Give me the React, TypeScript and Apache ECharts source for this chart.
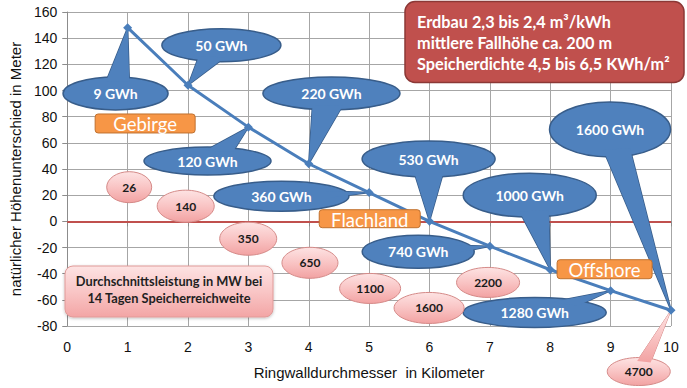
import React, { useEffect, useRef } from "react";
import * as echarts from "echarts";

// ---- data ----
const kmValues = [1, 2, 3, 4, 5, 6, 7, 8, 9, 10];
const heightValues = [148, 104, 72, 44, 22, 0, -19, -37, -53, -68];
const storageLabels = ["9 GWh", "50 GWh", "120 GWh", "220 GWh", "360 GWh", "530 GWh", "740 GWh", "1000 GWh", "1280 GWh", "1600 GWh"];
const powerKm = [1, 2, 3, 4, 5, 6, 7, 10];
const powerValues = [26, 140, 350, 650, 1100, 1600, 2200, 4700];
const regionLabels = ["Gebirge", "Flachland", "Offshore"];
const infoLines = ["Erdbau 2,3 bis 2,4 m³/kWh", "mittlere Fallhöhe ca. 200 m", "Speicherdichte 4,5 bis 6,5 KWh/m²"];
const legendLines = ["Durchschnittsleistung in MW bei", "14 Tagen Speicherreichweite"];
const xAxisName = "Ringwalldurchmesser  in Kilometer";
const yAxisName = "natürlicher Höhenunterschied in Meter";

// ---- annotation layout (data coordinates for centres, pixel sizes) ----
const blueCenters = [
  [0.8, 97.8], [2.553, 134.6], [2.323, 46.1], [4.376, 97.8], [3.547, 19.2],
  [5.985, 47.6], [5.813, -23.3], [7.66, 20], [7.742, -69.7], [8.99, 70.2],
];
const blueSizes = [
  [105, 33], [119, 33], [127, 28], [137, 33], [135, 30],
  [133, 36], [112, 33], [133, 44], [143, 30], [121, 55],
];
const pinkCenters = [
  [1.026, 26.1], [1.962, 11.6], [2.997, -13.3], [4.02, -31.7],
  [5.016, -51.3], [5.993, -66.2], [6.97, -46.7], [9.466, -114.8],
];
const pinkSizes = [[45, 31], [57, 32], [57, 33], [56, 31], [61, 30], [70, 31], [63, 30], [63, 28]];
const pinkHasPointer = [false, false, false, false, false, false, false, true];
const regionCenters = [[1.29, 74.8], [5.01, 2.0], [8.9, -36.6]];
const regionSizes = [[100, 19], [101, 18], [95, 19]];

const FONT = "Lato, 'Noto Sans', sans-serif";
const AXFONT = "'Liberation Sans', Arial, sans-serif";

function wedgePoints(c: number[], rx: number, ry: number, t: number[], spread: number, k: number) {
  const ang = Math.atan2((t[1] - c[1]) / ry, (t[0] - c[0]) / rx);
  const p1 = [c[0] + k * rx * Math.cos(ang - spread), c[1] + k * ry * Math.sin(ang - spread)];
  const p2 = [c[0] + k * rx * Math.cos(ang + spread), c[1] + k * ry * Math.sin(ang + spread)];
  return [p1, t, p2];
}

function calloutGroup(
  c: number[], rx: number, ry: number, tip: number[] | null,
  fill: any, stroke: string, lw: number, text: string, textFill: string, font: string
) {
  const children: any[] = [];
  if (tip) {
    const pts = wedgePoints(c, rx, ry, tip, 0.3, 0.75);
    children.push({ type: "polygon", shape: { points: pts }, style: { fill, stroke, lineWidth: lw, lineJoin: "round" } });
  }
  children.push({ type: "ellipse", shape: { cx: c[0], cy: c[1], rx, ry }, style: { fill, stroke, lineWidth: lw } });
  if (tip) {
    const pts = wedgePoints(c, rx, ry, tip, 0.3, 0.75);
    children.push({ type: "polygon", shape: { points: pts }, style: { fill, stroke: null, lineWidth: 0 } });
  }
  children.push({
    type: "text",
    style: { text, x: c[0], y: c[1], align: "center", verticalAlign: "middle", fill: textFill, font },
  });
  return { type: "group", children };
}

export default function App() {
  const ref = useRef<HTMLDivElement>(null);
  useEffect(() => {
    if (!ref.current) return;
    const chart = echarts.init(ref.current, null, { renderer: "svg" });

    const lineData = kmValues.map((k, i) => [k, heightValues[i]]);
    const blueData = blueCenters.map((c, i) => [c[0], c[1], kmValues[i], heightValues[i]]);
    const pinkData = pinkCenters.map((c, i) => {
      const idx = kmValues.indexOf(powerKm[i]);
      return [c[0], c[1], powerKm[i], heightValues[idx]];
    });

    const blueFill = "#4f81bd";
    const pinkFill = new echarts.graphic.LinearGradient(0, 0, 0, 1, [
      { offset: 0, color: "#fde3e3" },
      { offset: 0.5, color: "#f9c4c4" },
      { offset: 1, color: "#f2a2a2" },
    ]);

    const option: any = {
      animation: false,
      backgroundColor: "#ffffff",
      grid: { left: 62, right: 16, top: 12, bottom: 62, containLabel: false },
      xAxis: {
        type: "value",
        min: 0,
        max: 10,
        interval: 1,
        name: xAxisName,
        nameLocation: "middle",
        nameGap: 39,
        nameTextStyle: { fontFamily: AXFONT, fontSize: 15, color: "#111" },
        axisLine: { show: true, lineStyle: { color: "#8c8c8c" } },
        axisTick: { show: true, length: 5, lineStyle: { color: "#8c8c8c" } },
        axisLabel: { fontFamily: AXFONT, fontSize: 14, color: "#111", margin: 14 },
        splitLine: { show: true, lineStyle: { color: "#a6a6a6", width: 1 } },
      },
      yAxis: {
        type: "value",
        min: -80,
        max: 160,
        interval: 20,
        name: yAxisName,
        nameLocation: "middle",
        nameGap: 40,
        nameTextStyle: { fontFamily: AXFONT, fontSize: 15, color: "#111" },
        axisLine: { show: true, lineStyle: { color: "#8c8c8c" } },
        axisTick: { show: true, length: 5, lineStyle: { color: "#8c8c8c" } },
        axisLabel: { fontFamily: AXFONT, fontSize: 14, color: "#111", margin: 10 },
        splitLine: { show: true, lineStyle: { color: "#a6a6a6", width: 1 } },
      },
      series: [
        {
          type: "line",
          data: [],
          z: 1,
          silent: true,
          markLine: {
            silent: true,
            z: 1,
            symbol: ["none", "none"],
            label: { show: false },
            lineStyle: { color: "#c0504d", width: 2, type: "solid" },
            data: [{ yAxis: 0 }],
          },
        },
        {
          type: "custom",
          coordinateSystem: "cartesian2d",
          z: 4,
          clip: false,
          silent: true,
          data: blueData,
          encode: { x: [0, 2], y: [1, 3] },
          renderItem: (params: any, api: any) => {
            const i = params.dataIndex;
            const c = api.coord([api.value(0), api.value(1)]);
            const t = api.coord([api.value(2), api.value(3)]);
            const [w, h] = blueSizes[i];
            return calloutGroup(c, w / 2, h / 2, t, blueFill, "#385d8a", 1.5, storageLabels[i], "#ffffff", `bold 14px ${FONT}`);
          },
        },
        {
          type: "custom",
          coordinateSystem: "cartesian2d",
          z: 4,
          clip: false,
          silent: true,
          data: pinkData,
          encode: { x: [0, 2], y: [1, 3] },
          renderItem: (params: any, api: any) => {
            const i = params.dataIndex;
            const c = api.coord([api.value(0), api.value(1)]);
            const t = api.coord([api.value(2), api.value(3)]);
            const [w, h] = pinkSizes[i];
            return calloutGroup(
              c, w / 2, h / 2, pinkHasPointer[i] ? t : null, pinkFill, "#d58a88", 1,
              String(powerValues[i]), "#1a1a1a", `bold 12px ${FONT}`
            );
          },
        },
        {
          type: "line",
          data: lineData,
          z: 6,
          symbol: "diamond",
          symbolSize: 9,
          itemStyle: { color: "#4a7ebb" },
          lineStyle: { color: "#4a7ebb", width: 3 },
          silent: true,
        },
        {
          type: "custom",
          coordinateSystem: "cartesian2d",
          z: 8,
          clip: false,
          silent: true,
          data: regionCenters.map((c) => [c[0], c[1]]),
          encode: { x: 0, y: 1 },
          renderItem: (params: any, api: any) => {
            const i = params.dataIndex;
            const p = api.coord([api.value(0), api.value(1)]);
            const [w, h] = regionSizes[i];
            return {
              type: "group",
              children: [
                {
                  type: "rect",
                  shape: { x: p[0] - w / 2, y: p[1] - h / 2, width: w, height: h, r: 3 },
                  style: { fill: "#f79646", stroke: "#c0712f", lineWidth: 1 },
                },
                {
                  type: "text",
                  style: {
                    text: regionLabels[i], x: p[0], y: p[1] + 1, align: "center", verticalAlign: "middle",
                    fill: "#ffffff", font: `18.5px ${FONT}`,
                  },
                },
              ],
            };
          },
        },
      ],
      graphic: [
        {
          type: "rect",
          z: 10,
          shape: { x: 405, y: 1.5, width: 279, height: 81, r: 10 },
          style: { fill: "#c0504d", stroke: "#8c3836", lineWidth: 1.5 },
        },
        ...infoLines.map((t, i) => ({
          type: "text",
          z: 11,
          style: {
            text: t, x: 417, y: 21 + i * 21.3, align: "left", verticalAlign: "middle",
            fill: "#ffffff", font: `bold 16.3px ${FONT}`,
          },
        })),
        {
          type: "rect",
          z: 10,
          shape: { x: 65, y: 266, width: 208, height: 51, r: 8 },
          style: {
            fill: new echarts.graphic.LinearGradient(0, 0, 0, 1, [
              { offset: 0, color: "#fde3e3" },
              { offset: 0.5, color: "#f9c6c6" },
              { offset: 1, color: "#f3a5a5" },
            ]),
            stroke: "#e09a98",
            lineWidth: 1,
            shadowBlur: 3,
            shadowColor: "rgba(0,0,0,0.25)",
            shadowOffsetY: 1,
          },
        },
        ...legendLines.map((t, i) => ({
          type: "text",
          z: 11,
          style: {
            text: t, x: 169, y: 281 + i * 16.5, align: "center", verticalAlign: "middle",
            fill: "#1f1f1f", font: `bold 12.8px ${FONT}`,
          },
        })),
      ],
    };
    chart.setOption(option);
    return () => chart.dispose();
  }, []);
  return <div ref={ref} style={{ width: 687, height: 388, position: "absolute", left: 0, top: 0 }} />;
}
